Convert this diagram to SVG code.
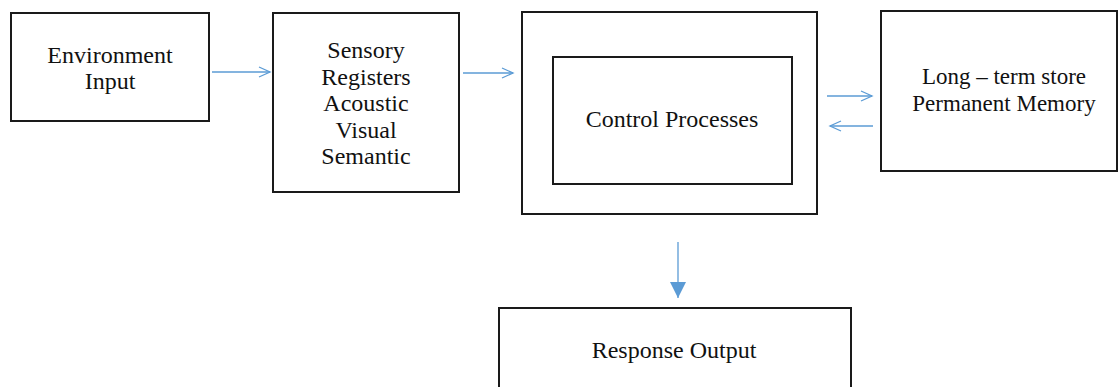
<svg xmlns="http://www.w3.org/2000/svg" width="1118" height="387" viewBox="0 0 1118 387">
<style>
.box{fill:#fff;stroke:#1a1a1a;stroke-width:2}
.t{font-family:'Liberation Serif',Tinos,'Times New Roman',Times,'DejaVu Serif',serif;font-size:24px;fill:#111;text-anchor:middle}
.c{stroke:#5b9bd5;stroke-width:1.3;fill:none}
</style>
<defs>
<marker id="open" markerWidth="14" markerHeight="12" refX="12" refY="6" orient="auto" markerUnits="userSpaceOnUse">
<path d="M1,1 L12,6 L1,11" fill="none" stroke="#5b9bd5" stroke-width="1.3"/>
</marker>
<marker id="solid" markerWidth="18" markerHeight="18" refX="16" refY="8" orient="auto" markerUnits="userSpaceOnUse">
<path d="M0,0 L16,8 L0,16 Z" fill="#5b9bd5"/>
</marker>
</defs>
<rect width="1118" height="387" fill="#fff"/>
<g id="env" font-family="Liberation Serif, serif">
<rect class="box" x="11" y="13" width="198" height="108"/>
<text class="t" x="110" y="63">Environment</text>
<text class="t" x="110" y="89">Input</text>
</g>
<g id="sensory">
<rect class="box" x="273" y="13" width="186" height="179"/>
<text class="t" x="366" y="58">Sensory</text>
<text class="t" x="366" y="85">Registers</text>
<text class="t" x="366" y="111">Acoustic</text>
<text class="t" x="366" y="138">Visual</text>
<text class="t" x="366" y="164">Semantic</text>
</g>
<g id="control">
<rect class="box" x="522" y="12" width="295" height="202"/>
<rect class="box" x="553" y="57" width="239" height="127"/>
<text class="t" x="672" y="127">Control Processes</text>
</g>
<g id="longterm">
<rect class="box" x="881" y="11" width="236" height="160"/>
<text class="t" x="1004" y="84" style="font-size:23px">Long – term store</text>
<text class="t" x="1004" y="111" style="font-size:23px">Permanent Memory</text>
</g>
<g id="response">
<rect class="box" x="499" y="308" width="352" height="90"/>
<text class="t" x="674" y="358">Response Output</text>
</g>
<g id="connectors">
<line class="c" x1="212" y1="72" x2="270" y2="72" marker-end="url(#open)"/>
<line class="c" x1="463" y1="73" x2="513" y2="73" marker-end="url(#open)"/>
<line class="c" x1="827" y1="96" x2="872" y2="96" marker-end="url(#open)"/>
<line class="c" x1="873" y1="126" x2="830" y2="126" marker-end="url(#open)"/>
<line class="c" x1="678" y1="242" x2="678" y2="298" marker-end="url(#solid)"/>
</g>
</svg>
